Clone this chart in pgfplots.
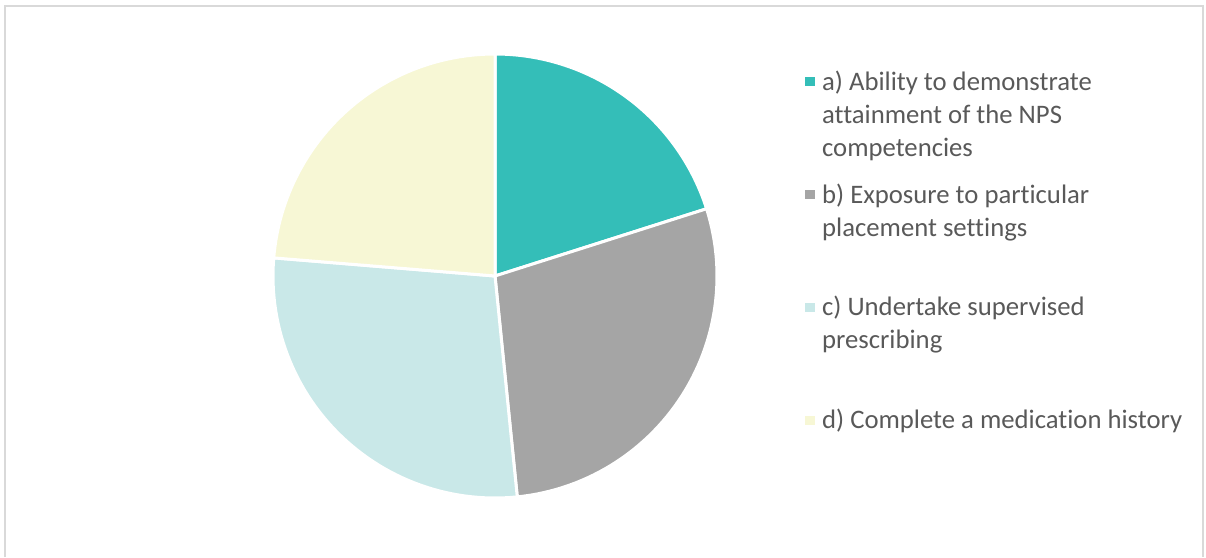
\documentclass[border=0pt]{standalone}
\usepackage{pgfplots}
\pgfplotsset{compat=1.18}
\usepackage{pgfplotstable}
\usepackage{fontspec}
\setmainfont[Ligatures={NoCommon}]{Carlito}
\definecolor{ca}{HTML}{34BEB8}
\definecolor{cb}{HTML}{A5A5A5}
\definecolor{cc}{HTML}{C9E8E8}
\definecolor{cd}{HTML}{F7F7D5}
\definecolor{txt}{HTML}{595959}
\definecolor{brd}{HTML}{D9D9D9}
\pgfplotstableread{
label value
a 20.1
b 28.3
c 27.9
d 23.7
}\piedata
\pgfplotstablegetelem{0}{value}\of\piedata\let\va\pgfplotsretval
\pgfplotstablegetelem{1}{value}\of\piedata\let\vb\pgfplotsretval
\pgfplotstablegetelem{2}{value}\of\piedata\let\vc\pgfplotsretval
\pgfplotstablegetelem{3}{value}\of\piedata\let\vd\pgfplotsretval
\pgfmathsetmacro\tot{\va+\vb+\vc+\vd}
\pgfmathsetmacro\aA{90}
\pgfmathsetmacro\aB{\aA-360*\va/\tot}
\pgfmathsetmacro\aC{\aB-360*\vb/\tot}
\pgfmathsetmacro\aD{\aC-360*\vc/\tot}
\pgfmathsetmacro\aE{\aD-360*\vd/\tot}
\newcommand{\entry}[1]{\parbox[t][112.7pt][t]{370pt}{#1}}
\begin{document}
\begin{tikzpicture}
\path (0pt,0pt) rectangle (1206pt,557pt);
\draw[brd, line width=1.6pt] (5pt,0pt) -- (5pt,551pt) -- (1203pt,551pt) -- (1203pt,0pt);
\begin{axis}[at={(495pt,281pt)}, anchor=center, width=444pt, height=444pt, scale only axis,
  xmin=-1, xmax=1, ymin=-1, ymax=1, hide axis, clip=false,
  legend image code/.code={\fill[#1, draw=none] (0pt,4pt) rectangle (10pt,13pt);},
  legend style={at={(1.1974,0.962)}, anchor=north west, draw=none, fill=none,
    inner sep=0pt, outer sep=0pt, row sep=0pt,
    font=\fontsize{26.7}{33}\selectfont,
    cells={anchor=base west},
    nodes={inner sep=0pt, outer sep=0pt, text depth=, text height=, text=txt},
    /tikz/every odd column/.append style={column sep=7.5pt}}]
\addplot[fill=ca, draw=white, line width=3pt, domain=\aB:\aA, samples=60] ({cos(x)},{sin(x)}) -- (0,0) -- cycle;
\addplot[fill=cb, draw=white, line width=3pt, domain=\aC:\aB, samples=60] ({cos(x)},{sin(x)}) -- (0,0) -- cycle;
\addplot[fill=cc, draw=white, line width=3pt, domain=\aD:\aC, samples=60] ({cos(x)},{sin(x)}) -- (0,0) -- cycle;
\addplot[fill=cd, draw=white, line width=3pt, domain=\aE:\aD, samples=60] ({cos(x)},{sin(x)}) -- (0,0) -- cycle;
\legend{\entry{a) Ability to demonstrate\\attainment of the NPS\\competencies},
\entry{b) Exposure to particular\\placement settings},
\entry{c) Undertake supervised\\prescribing},
\entry{d) Complete a medication history}}
\end{axis}
\end{tikzpicture}
\end{document}
